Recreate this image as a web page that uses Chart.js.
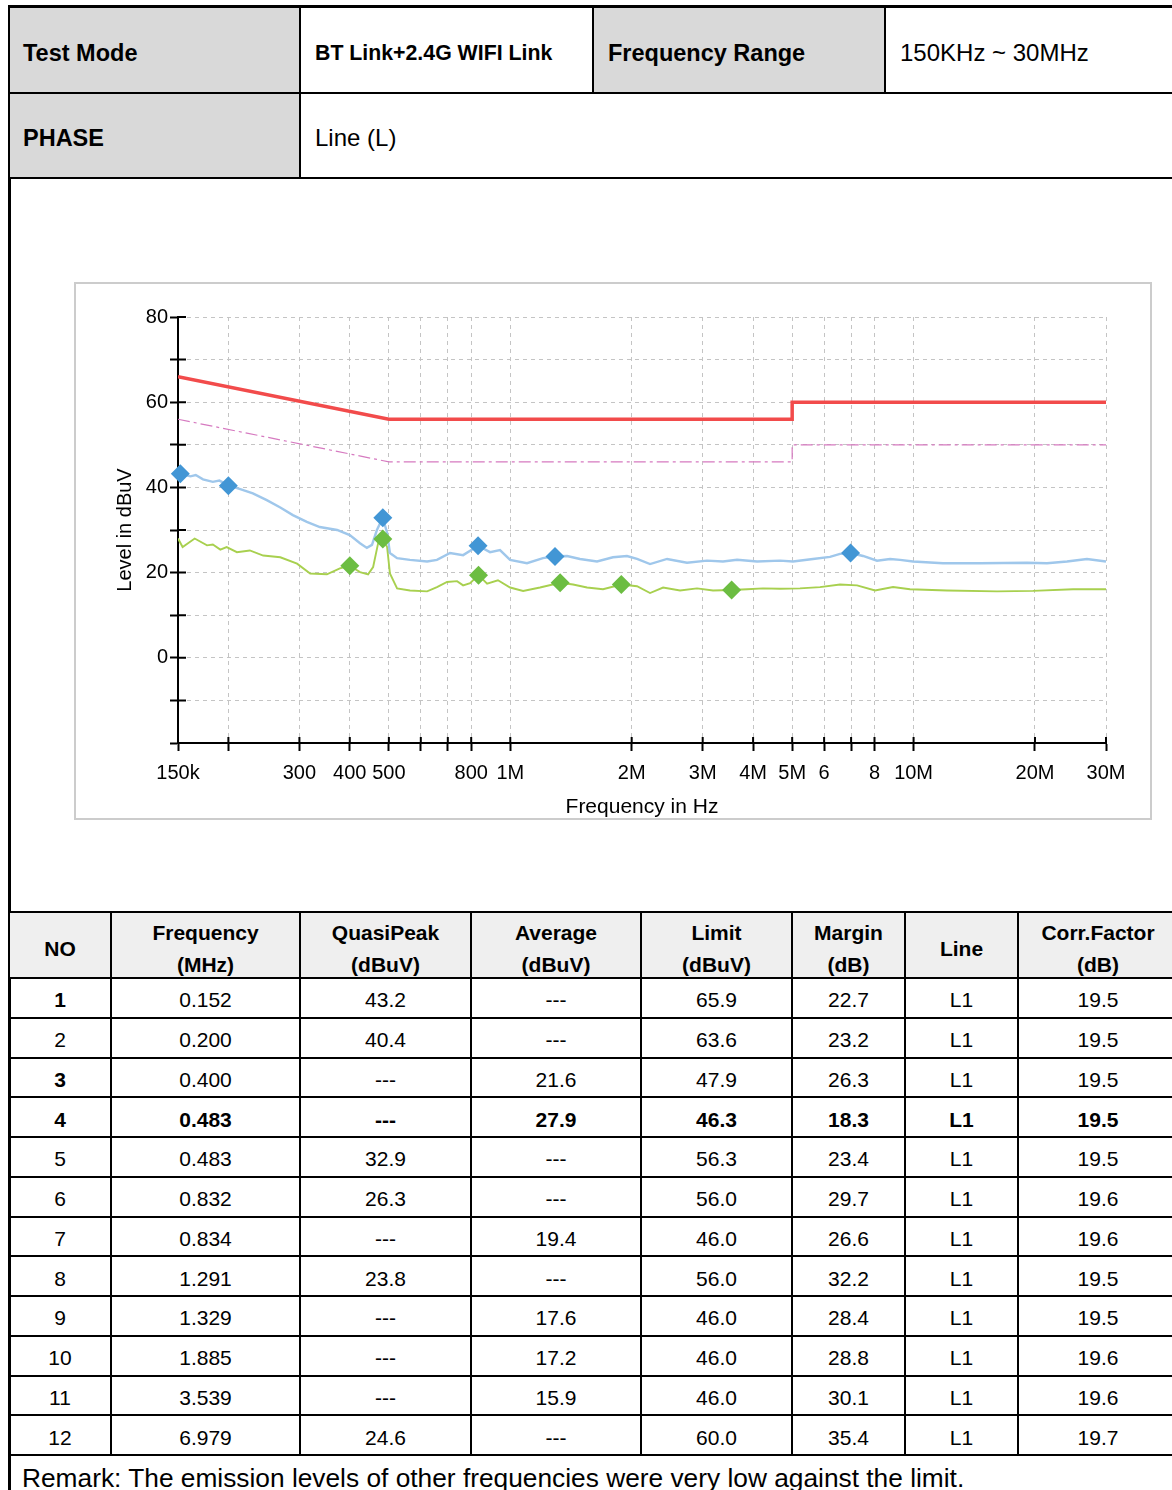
<!DOCTYPE html>
<html>
<head>
<meta charset="utf-8">
<script src="https://cdn.jsdelivr.net/npm/chart.js@4.4.1/dist/chart.umd.min.js"></script>
<style>
  html, body { margin:0; padding:0; background:#fff; width:1172px; height:1490px; overflow:hidden; }
  body { font-family:"Liberation Sans", Arial, sans-serif; color:#000; position:relative; }
  .frame { position:absolute; left:8px; top:5px; width:1300px; height:1600px; border-left:3px solid #000; border-top:3px solid #000; box-sizing:border-box; }
  .cell { position:absolute; box-sizing:border-box; border-right:2px solid #000; border-bottom:2px solid #000; display:flex; align-items:center; white-space:nowrap; }
  .gray { background:#d9d9d9; }
  .b { font-weight:bold; }
  .box { position:absolute; left:74px; top:282px; width:1078px; height:538px; border:2px solid #cccccc; box-sizing:border-box; background:#fff; }
  .plot { position:absolute; left:76px; top:284px; width:1074px; height:534px; }
  table.data { position:absolute; left:8px; top:911px; border-collapse:collapse; table-layout:fixed; width:1169px; font-size:21px; }
  table.data td { border:2px solid #000; text-align:center; padding:5px 0 0 0; height:32.75px; white-space:nowrap; }
  table.data tr.head td { background:#efefef; font-weight:bold; height:64px; padding:0; line-height:32px; }
  table.data tr.head td div { position:relative; top:4px; }
  table.data td.remark { text-align:left; padding:4px 0 0 12px; font-size:26.3px; height:36px; }
</style>
</head>
<body>
<div class="frame"></div>

<div class="cell gray b" style="left:10px;top:8px;width:291px;height:86px;padding:6px 0 0 13px;font-size:23.5px;">Test Mode</div>
<div class="cell b" style="left:301px;top:8px;width:293px;height:86px;padding:6px 0 0 14px;font-size:21.3px;">BT Link+2.4G WIFI Link</div>
<div class="cell gray b" style="left:594px;top:8px;width:292px;height:86px;padding:6px 0 0 14px;font-size:23.5px;">Frequency Range</div>
<div class="cell" style="left:886px;top:8px;width:320px;height:86px;padding:6px 0 0 14px;font-size:24px;">150KHz ~ 30MHz</div>
<div class="cell gray b" style="left:10px;top:94px;width:291px;height:85px;padding:5px 0 0 13px;font-size:23.5px;">PHASE</div>
<div class="cell" style="left:301px;top:94px;width:905px;height:85px;padding:5px 0 0 14px;font-size:24px;">Line (L)</div>

<div class="box"></div>
<div class="plot"><canvas id="emi"></canvas></div>

<table class="data" id="tbl">
  <colgroup>
    <col style="width:102px"><col style="width:189px"><col style="width:171px"><col style="width:170px">
    <col style="width:151px"><col style="width:113px"><col style="width:113px"><col style="width:160px">
  </colgroup>
  <tbody id="tbody">
    <tr class="head">
      <td><div>NO</div></td><td><div>Frequency<br>(MHz)</div></td><td><div>QuasiPeak<br>(dBuV)</div></td><td><div>Average<br>(dBuV)</div></td>
      <td><div>Limit<br>(dBuV)</div></td><td><div>Margin<br>(dB)</div></td><td><div>Line</div></td><td><div>Corr.Factor<br>(dB)</div></td>
    </tr>
  </tbody>
</table>

<script>
// scan traces (MHz / dBuV)
const qpScanFreq = [0.150, 0.152, 0.161, 0.166, 0.173, 0.183, 0.190, 0.200, 0.214, 0.230, 0.249, 0.269,
  0.289, 0.313, 0.337, 0.372, 0.400, 0.424, 0.441, 0.454, 0.467, 0.483, 0.495, 0.503, 0.524, 0.564,
  0.622, 0.658, 0.709, 0.764, 0.832, 0.891, 0.943, 0.999, 1.100, 1.205, 1.291, 1.383, 1.489, 1.641,
  1.797, 1.947, 2.062, 2.221, 2.448, 2.743, 3.075, 3.369, 3.650, 4.092, 4.665, 5.023, 5.631, 6.205,
  6.570, 6.979, 7.494, 8.116, 8.745, 9.257, 9.968, 11.83, 14.61, 19.11, 21.42, 24.01, 26.91, 30.0];
const qpScanLevel = [43.4, 43.2, 42.6, 42.9, 41.9, 41.3, 41.6, 40.5, 39.6, 38.6, 37.0, 35.3,
  33.5, 31.9, 30.7, 30.0, 28.8, 26.9, 25.8, 26.5, 30.0, 32.9, 29.3, 24.6, 23.4, 23.0,
  22.6, 23.0, 24.6, 24.1, 26.3, 24.8, 25.3, 23.0, 22.2, 23.4, 23.8, 23.9, 23.2, 22.6,
  23.6, 23.9, 23.2, 22.0, 23.2, 22.3, 22.8, 22.6, 23.0, 22.6, 22.8, 22.6, 23.2, 23.7,
  24.4, 24.6, 23.9, 22.8, 23.2, 23.0, 22.6, 22.2, 22.2, 22.3, 22.2, 22.6, 23.2, 22.6];

const avScanFreq = [0.150, 0.154, 0.165, 0.177, 0.183, 0.191, 0.198, 0.210, 0.226, 0.244, 0.269, 0.296,
  0.319, 0.351, 0.378, 0.400, 0.424, 0.444, 0.457, 0.470, 0.483, 0.495, 0.503, 0.524, 0.564, 0.622,
  0.658, 0.697, 0.738, 0.764, 0.795, 0.834, 0.876, 0.932, 0.999, 1.076, 1.185, 1.329, 1.431, 1.550,
  1.698, 1.885, 2.062, 2.221, 2.393, 2.636, 2.904, 3.182, 3.539, 3.864, 4.234, 4.665, 5.228, 5.861,
  6.570, 7.242, 8.024, 8.894, 9.798, 12.10, 16.11, 19.77, 24.85, 30.0];
const avScanLevel = [28.0, 26.0, 28.0, 26.4, 26.6, 25.4, 26.0, 24.8, 25.2, 24.0, 23.6, 22.1,
  19.8, 19.6, 21.0, 21.6, 20.1, 19.6, 21.3, 26.8, 27.9, 26.0, 19.8, 16.3, 15.8, 15.6,
  16.6, 17.8, 18.0, 17.0, 17.5, 19.4, 17.4, 18.2, 16.5, 15.7, 16.5, 17.6, 17.2, 16.5,
  16.1, 17.2, 16.8, 15.2, 16.5, 15.8, 16.3, 15.8, 15.9, 16.1, 16.3, 16.2, 16.3, 16.6,
  17.2, 17.0, 15.8, 16.6, 16.1, 15.8, 15.6, 15.7, 16.1, 16.1];

// limits
const qpLimitFreq = [0.15, 0.5, 5, 5, 30];
const qpLimitLevel = [66, 56, 56, 60, 60];
const avLimitFreq = [0.15, 0.5, 5, 5, 30];
const avLimitLevel = [56, 46, 46, 50, 50];

// axis ticks
const xTicks = [0.15, 0.2, 0.3, 0.4, 0.5, 0.6, 0.7, 0.8, 1, 2, 3, 4, 5, 6, 7, 8, 10, 20, 30];
const xTickLabels = ['150k', '', '300', '400', '500', '', '', '800', '1M', '2M', '3M', '4M', '5M', '6', '', '8', '10M', '20M', '30M'];

// final results table
const rowFreq = [0.152, 0.200, 0.400, 0.483, 0.483, 0.832, 0.834, 1.291, 1.329, 1.885, 3.539, 6.979];
const rowQP = [43.2, 40.4, null, null, 32.9, 26.3, null, 23.8, null, null, null, 24.6];
const rowAvg = [null, null, 21.6, 27.9, null, null, 19.4, null, 17.6, 17.2, 15.9, null];
const rowLimit = [65.9, 63.6, 47.9, 46.3, 56.3, 56.0, 46.0, 56.0, 46.0, 46.0, 46.0, 60.0];
const rowMargin = [22.7, 23.2, 26.3, 18.3, 23.4, 29.7, 26.6, 32.2, 28.4, 28.8, 30.1, 35.4];
const rowLine = ['L1', 'L1', 'L1', 'L1', 'L1', 'L1', 'L1', 'L1', 'L1', 'L1', 'L1', 'L1'];
const rowCorr = [19.5, 19.5, 19.5, 19.5, 19.5, 19.6, 19.6, 19.5, 19.5, 19.6, 19.6, 19.7];

const pts = (fs, vs) => fs.map((f, i) => ({x: f, y: vs[i]}));
const qpMarks = rowFreq.map((f, i) => rowQP[i] != null ? {x: f, y: rowQP[i]} : null).filter(p => p);
const avMarks = rowFreq.map((f, i) => rowAvg[i] != null ? {x: f, y: rowAvg[i]} : null).filter(p => p);

// table body
const tbody = document.getElementById('tbody');
const fmt = v => v == null ? '---' : v.toFixed(1);
rowFreq.forEach((f, i) => {
  const tr = document.createElement('tr');
  const cells = [String(i + 1), f.toFixed(3), fmt(rowQP[i]), fmt(rowAvg[i]), fmt(rowLimit[i]), fmt(rowMargin[i]), rowLine[i], fmt(rowCorr[i])];
  cells.forEach((c, j) => {
    const td = document.createElement('td');
    td.textContent = c;
    if (i === 3 || (j === 0 && (i === 0 || i === 2))) td.style.fontWeight = 'bold';
    tr.appendChild(td);
  });
  tbody.appendChild(tr);
});
const rem = document.createElement('tr');
rem.innerHTML = '<td class="remark" colspan="8">Remark: The emission levels of other frequencies were very low against the limit.</td>';
tbody.appendChild(rem);

// tick marks crossing the axes
const innerTicks = {
  id: 'innerTicks',
  beforeDatasetsDraw(chart) {
    const {ctx, chartArea, scales} = chart;
    ctx.save();
    ctx.strokeStyle = '#000';
    ctx.lineWidth = 2;
    ctx.beginPath();
    scales.x.ticks.forEach((t, i) => {
      const px = scales.x.getPixelForTick(i);
      ctx.moveTo(px, chartArea.bottom);
      ctx.lineTo(px, chartArea.bottom - 6);
    });
    scales.y.ticks.forEach((t, i) => {
      const py = scales.y.getPixelForTick(i);
      ctx.moveTo(chartArea.left, py);
      ctx.lineTo(chartArea.left + 8, py);
    });
    ctx.stroke();
    ctx.restore();
  }
};

const font = '"Liberation Sans", Arial, sans-serif';

new Chart(document.getElementById('emi'), {
  type: 'line',
  data: {
    datasets: [
      {label: 'QP marks', data: qpMarks, showLine: false, pointStyle: 'rectRot', pointRadius: 9.5,
        pointBackgroundColor: '#4296d5', pointBorderWidth: 0, clip: false},
      {label: 'AV marks', data: avMarks, showLine: false, pointStyle: 'rectRot', pointRadius: 9.5,
        pointBackgroundColor: '#6cbd42', pointBorderWidth: 0, clip: false},
      {label: 'QP limit', data: pts(qpLimitFreq, qpLimitLevel), borderColor: '#f24b4b', borderWidth: 3.5,
        pointRadius: 0, tension: 0},
      {label: 'AV limit', data: pts(avLimitFreq, avLimitLevel), borderColor: '#d67ac0', borderWidth: 1.2,
        borderDash: [12, 4, 3, 4], pointRadius: 0, tension: 0},
      {label: 'QP scan', data: pts(qpScanFreq, qpScanLevel), borderColor: '#9fc7eb', borderWidth: 2.4,
        pointRadius: 0, tension: 0},
      {label: 'AV scan', data: pts(avScanFreq, avScanLevel), borderColor: '#a8d04f', borderWidth: 1.9,
        pointRadius: 0, tension: 0}
    ]
  },
  options: {
    responsive: true,
    maintainAspectRatio: false,
    animation: false,
    layout: {padding: {top: 33, right: 44, left: 0, bottom: 0}},
    plugins: {legend: {display: false}, tooltip: {enabled: false}},
    scales: {
      x: {
        type: 'logarithmic',
        min: 0.15,
        max: 30,
        afterBuildTicks: s => { s.ticks = xTicks.map(v => ({value: v})); },
        afterFit: s => { s.height = 75; },
        ticks: {
          autoSkip: false, maxRotation: 0, padding: 10, color: '#000',
          font: {family: font, size: 20},
          callback: v => xTickLabels[xTicks.indexOf(v)]
        },
        grid: {color: '#c4c4c4', lineWidth: 1, tickColor: '#000', tickWidth: 2, tickLength: 8},
        border: {color: '#000', width: 2, dash: [4, 4]},
        title: {display: true, text: 'Frequency in Hz', color: '#000', font: {family: font, size: 21, lineHeight: 1}, padding: {top: 0, bottom: 0}}
      },
      y: {
        min: -20,
        max: 80,
        afterFit: s => { s.width = 102; },
        ticks: {
          stepSize: 10, autoSkip: false, padding: 2, color: '#000',
          font: {family: font, size: 20},
          callback: v => (v >= 0 && v % 20 === 0) ? String(v) : ''
        },
        grid: {color: '#c4c4c4', lineWidth: 1, tickColor: '#000', tickWidth: 2, tickLength: 8},
        border: {color: '#000', width: 2, dash: [4, 4]},
        title: {display: true, text: 'Level in dBuV', color: '#000', font: {family: font, size: 20, lineHeight: 1.2}, padding: {top: 37, bottom: 0}}
      }
    }
  },
  plugins: [innerTicks]
});
</script>
</body>
</html>
